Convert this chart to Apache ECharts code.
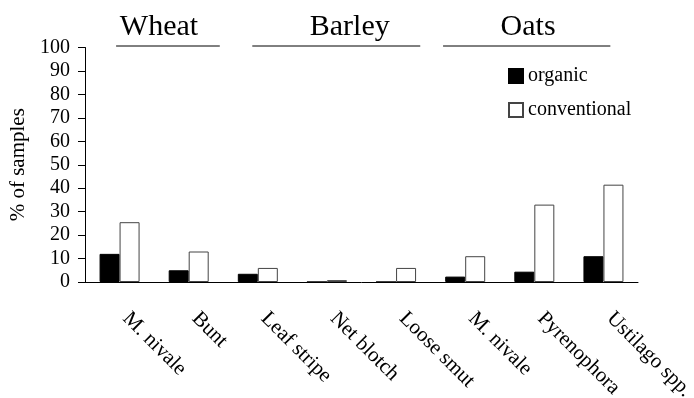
<!DOCTYPE html>
<html>
<head>
<meta charset="utf-8">
<script src="https://cdn.jsdelivr.net/npm/echarts@6/dist/echarts.min.js"></script>
<style>html,body{margin:0;padding:0;background:#fff;}#c{width:694px;height:398px;}</style>
</head>
<body>
<div id="c"></div>
<script>
const categories = ['M. nivale','Bunt','Leaf stripe','Net blotch','Loose smut','M. nivale','Pyrenophora','Ustilago spp.'];
const organic = [12, 5, 3.5, 0, 0, 2.3, 4.4, 11];
const conventional = [25.5, 13, 6, 0.8, 6, 11, 33, 41.5];
const yTicks = [0,10,20,30,40,50,60,70,80,90,100];
const groupNames = ['Wheat','Barley','Oats'];
const groupLineStart = [-0.05, 1.92, 4.68];
const groupLineEnd = [1.45, 4.35, 7.1];
const groupTextCenter = [0.57, 3.33, 5.91];

const FONT = '"Liberation Serif", "Times New Roman", serif';
const chart = echarts.init(document.getElementById('c'), null, {renderer:'canvas'});
chart.setOption({
  animation: false,
  backgroundColor: '#fff',
  textStyle: {fontFamily: FONT, color: '#000'},
  grid: {left: 85, right: 56, top: 47.5, bottom: 116, containLabel: false, outerBoundsMode: 'none'},
  legend: {
    orient: 'vertical', left: 503, top: 61, itemWidth: 14, itemHeight: 14, itemGap: 14,
    icon: 'rect',
    textStyle: {fontFamily: FONT, fontSize: 20, color: '#000'},
    data: ['organic','conventional']
  },
  xAxis: {
    type: 'category', data: categories,
    axisLine: {lineStyle: {color: '#000', width: 1}},
    axisTick: {length: 6, lineStyle: {color: '#000'}},
    axisLabel: {rotate: -45, margin: 27, padding: [0, 0, 0, 9], fontSize: 21, fontFamily: FONT, color: '#000', interval: 0}
  },
  yAxis: {
    type: 'value', min: yTicks[0], max: yTicks[yTicks.length-1], interval: 10,
    name: '% of samples', nameLocation: 'middle', nameGap: 52,
    nameTextStyle: {fontSize: 21, fontFamily: FONT, color: '#000'},
    axisLine: {show: true, lineStyle: {color: '#000', width: 1}},
    axisTick: {show: true, length: 7, lineStyle: {color: '#000'}},
    axisLabel: {fontSize: 20, fontFamily: FONT, color: '#000', margin: 15},
    splitLine: {show: false}
  },
  series: [
    {name: 'organic', type: 'bar', data: organic, barWidth: 20, barGap: '0%',
     itemStyle: {color: '#000', borderColor: '#000', borderWidth: 1}},
    {name: 'conventional', type: 'bar', data: conventional, barWidth: 20, barGap: '0%',
     itemStyle: {color: '#fff', borderColor: '#444', borderWidth: 1}}
  ]
});

const p0 = chart.convertToPixel({xAxisIndex: 0}, 0);
const p1 = chart.convertToPixel({xAxisIndex: 0}, 1);
const step = p1 - p0;
const px = u => p0 + u * step;
const elements = [];
groupNames.forEach((g, i) => {
  elements.push({type: 'line', shape: {x1: px(groupLineStart[i]), y1: 46, x2: px(groupLineEnd[i]), y2: 46},
    style: {stroke: '#000', lineWidth: 1}});
  elements.push({type: 'text', x: px(groupTextCenter[i]), y: 27,
    style: {text: g, font: '30px ' + FONT, fill: '#000', textAlign: 'center', textVerticalAlign: 'middle'}});
});
chart.setOption({graphic: {elements}});
</script>
</body>
</html>
